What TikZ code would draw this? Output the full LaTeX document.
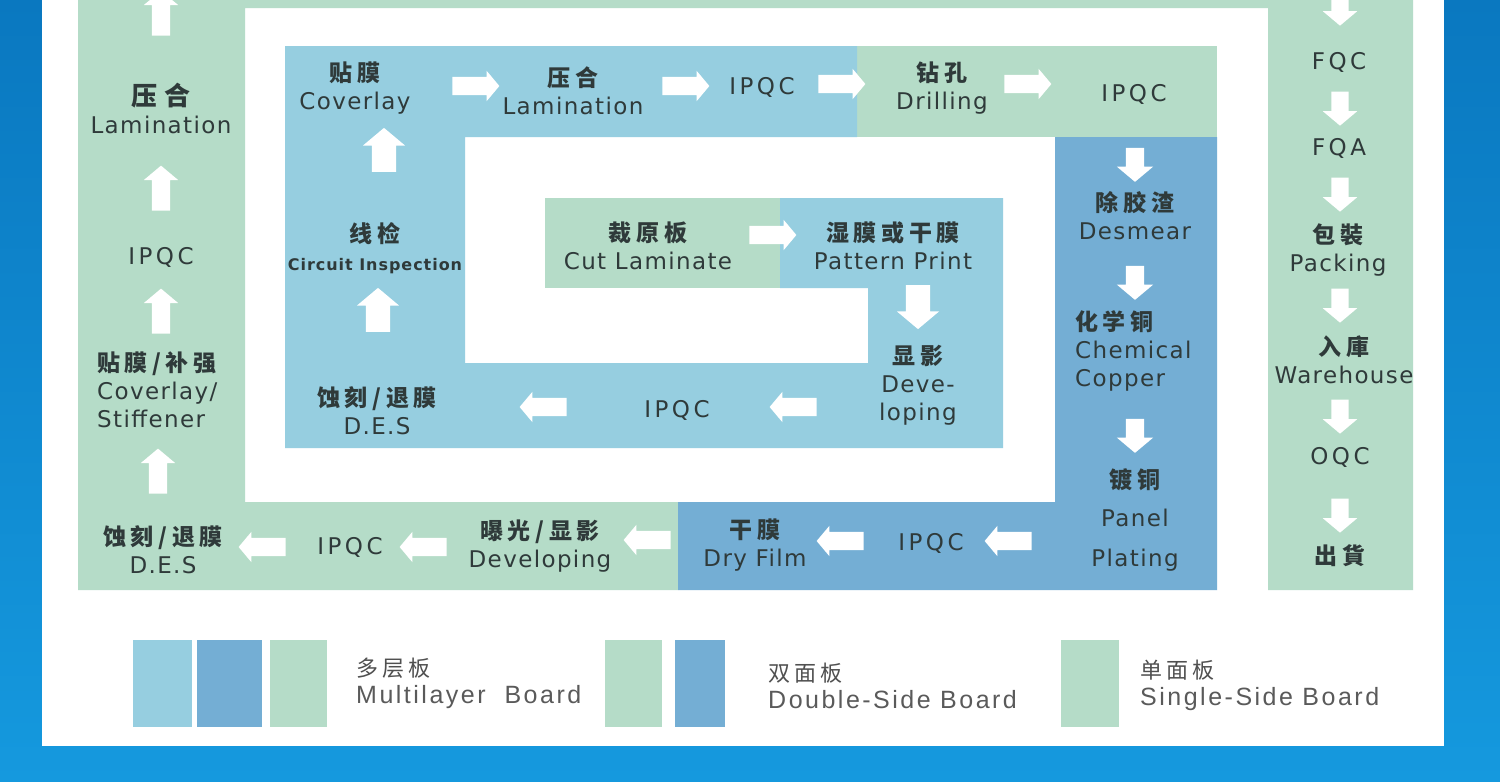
\documentclass[tikz,border=0pt]{standalone}
\usepackage{fontspec}
\setmainfont{DejaVu Sans}
\newfontfamily\cjk[LetterSpace=20]{Noto Sans CJK SC}
\newfontfamily\cjkL[LetterSpace=30]{Noto Sans CJK SC}
\newfontfamily\cjklg[LetterSpace=18]{Noto Sans CJK SC}
\newfontfamily\en[LetterSpace=6]{DejaVu Sans}
\newfontfamily\enw[LetterSpace=15]{DejaVu Sans}
\newfontfamily\lgf[LetterSpace=10]{Liberation Sans}
\usetikzlibrary{shapes.arrows}
\definecolor{lb}{HTML}{96CEE0}
\definecolor{db}{HTML}{74AED4}
\definecolor{gr}{HTML}{B5DCC8}
\definecolor{tx}{HTML}{2F3A3A}
\definecolor{lgt}{HTML}{5A5A5A}
\definecolor{lgc}{HTML}{505050}
\newcommand{\zh}[1]{{\fontsize{23}{28}\selectfont\cjk\bfseries #1}}
\newcommand{\zhb}[1]{{\fontsize{26}{30}\selectfont\cjkL\bfseries #1}}
\newcommand{\lzh}[1]{{\fontsize{22}{27}\selectfont\cjklg\color{lgc} #1}}
\begin{document}
\begin{tikzpicture}[x=1pt,y=-1pt,
  txt/.style={align=center,text=tx,inner sep=0pt,font={\fontsize{23}{28}\selectfont\en}},
  qc/.style={txt,font={\fontsize{23}{28}\selectfont\enw}},
  lgd/.style={align=left,anchor=west,text=lgt,inner sep=0pt,font={\fontsize{25}{27}\selectfont\lgf}},
  arrbase/.style={single arrow,fill=white,draw=none,inner xsep=0pt,single arrow tip angle=100},
  harr/.style={arrbase,minimum height=47,inner ysep=9,single arrow head extend=6},
  uarr/.style={arrbase,minimum height=45,inner ysep=9,single arrow head extend=8,rotate=90},
  farr/.style={arrbase,minimum height=44,inner ysep=12,single arrow head extend=9,rotate=90},
  darr/.style={arrbase,minimum height=34,inner ysep=9,single arrow head extend=9,rotate=-90},
  rarr/.style={arrbase,minimum height=34,inner ysep=8.5,single arrow head extend=8.5,rotate=-90}
]
\useasboundingbox (0,0) rectangle (1500,782);
% background
\shade[top color={rgb,255:red,10;green,120;blue,192},bottom color={rgb,255:red,21;green,153;blue,222}] (0,0) rectangle (1500,782);
\fill[white] (42,0) rectangle (1444,746);
% regions
\fill[gr] (78,0) -- (1413,0) -- (1413,590) -- (1268,590) -- (1268,8) -- (245,8) -- (245,502) -- (678,502) -- (678,590) -- (78,590) -- cycle;
\fill[db] (1055,137) -- (1217,137) -- (1217,590) -- (678,590) -- (678,502) -- (1055,502) -- cycle;
\fill[gr] (857,46) rectangle (1217,137);
\fill[lb] (285,46) -- (857,46) -- (857,137) -- (465,137) -- (465,363) -- (868,363) -- (868,288) -- (780,288) -- (780,198) -- (1003,198) -- (1003,448) -- (285,448) -- cycle;
\fill[gr] (545,198) rectangle (780,288);
% legend boxes
\fill[lb] (133,640) rectangle (192,727);
\fill[db] (197,640) rectangle (262,727);
\fill[gr] (270,640) rectangle (327,727);
\fill[gr] (605,640) rectangle (662,727);
\fill[db] (675,640) rectangle (725,727);
\fill[gr] (1061,640) rectangle (1119,727);
% left outer column
\node[txt] (L1) at (161,108) {\zhb{压合}\\Lamination};
\node[qc] (L2) at (161,257) {IPQC};
\node[txt,align=left,anchor=west] (L3) at (97,390) {\zh{贴膜/补强}\\Coverlay/\\Stiffener};
% bottom band
\node[txt] (B1) at (163,550) {\zh{蚀刻/退膜}\\D.E.S};
\node[qc] (B2) at (350,547) {IPQC};
\node[txt] (B3) at (540,546) {\zh{曝光/显影}\\Developing};
\node[txt] (B4) at (755,545) {\zh{干膜}\\Dry Film};
\node[qc] (B5) at (931,543) {IPQC};
% dark column
\node[txt] (D1) at (1135,216) {\zh{除胶渣}\\Desmear};
\node[txt,align=left,anchor=west] (D2) at (1075,351) {\zh{化学铜}\\Chemical\\Copper};
\node[txt] (D3) at (1135,520) {\zh{镀铜}\\[10pt]Panel\\[12pt]Plating};
% right column
\node[qc] (R1) at (1339,62) {FQC};
\node[qc] (R2) at (1339,148) {FQA};
\node[txt] (R3) at (1338,250) {\zh{包裝}\\Packing};
\node[txt] (R4) at (1344,360) {\zh{入庫}\\Warehouse};
\node[qc] (R5) at (1340,457) {OQC};
\node[txt] (R6) at (1340,556) {\zh{出貨}};
% top band
\node[txt] (T1) at (355,88) {\zh{贴膜}\\Coverlay};
\node[txt] (T2) at (573,91) {\zh{压合}\\Lamination};
\node[qc] (T3) at (762,87) {IPQC};
\node[txt] (T4) at (942,88) {\zh{钻孔}\\Drilling};
\node[qc] (T5) at (1134,94) {IPQC};
% light blue loop
\node[txt] (M1) at (375,248) {\zh{线检}\\{\fontsize{16}{20}\selectfont\bfseries Circuit Inspection}};
\node[txt] (M2) at (377,411) {\zh{蚀刻/退膜}\\D.E.S};
\node[qc] (M3) at (677,410) {IPQC};
\node[txt] (M4) at (918,385) {\zh{显影}\\Deve-\\loping};
\node[txt] (C1) at (648,246) {\zh{裁原板}\\Cut Laminate};
\node[txt] (C2) at (893,246) {\zh{湿膜或干膜}\\Pattern Print};
% legend text
\node[lgd] (G1) at (356,683) {\lzh{多层板}\\Multilayer~~Board};
\node[lgd] (G2) at (768,686) {\lzh{双面板}\\Double-Side Board};
\node[lgd] (G3) at (1140,685) {\lzh{单面板}\\Single-Side Board};
% arrows: left outer column (up)
\node[uarr] (a1) at (161,17) {};
\node[uarr] (a2) at (161,192) {};
\node[uarr] (a3) at (161,315) {};
\node[uarr] (a4) at (158,475) {};
% bottom band (left)
\node[harr,rotate=180] (a5) at (266,547) {};
\node[harr,rotate=180] (a6) at (427,547) {};
\node[harr,rotate=180] (a7) at (651,540) {};
\node[harr,rotate=180] (a8) at (844,541) {};
\node[harr,rotate=180] (a9) at (1012,541) {};
% dark column (down)
\node[darr] (a10) at (1135,161) {};
\node[darr] (a11) at (1135,279) {};
\node[darr] (a12) at (1135,432) {};
% right column (down)
\node[rarr] (a13) at (1340,5) {};
\node[rarr] (a14) at (1340,105) {};
\node[rarr] (a15) at (1340,191) {};
\node[rarr] (a16) at (1340,302) {};
\node[rarr] (a17) at (1340,413) {};
\node[rarr] (a18) at (1340,512) {};
% top band (right)
\node[harr] (a19) at (472,86) {};
\node[harr] (a20) at (682,86) {};
\node[harr] (a21) at (838,84) {};
\node[harr] (a22) at (1024,84) {};
% light blue left column (up)
\node[farr] (a23) at (384,155) {};
\node[farr] (a24) at (378,315) {};
% light blue bottom (left)
\node[harr,rotate=180] (a25) at (547,407) {};
\node[harr,rotate=180] (a26) at (797,407) {};
% pattern print down
\node[farr,rotate=180] (a27) at (918,302) {};
% inner right
\node[harr] (a28) at (769,235) {};
\end{tikzpicture}
\end{document}
